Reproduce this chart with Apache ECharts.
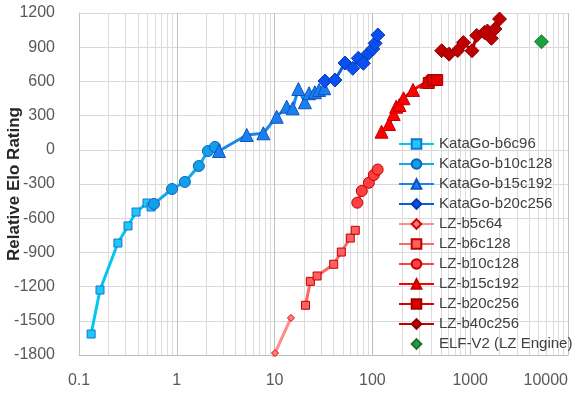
<!DOCTYPE html>
<html>
<head>
<meta charset="utf-8">
<script src="https://cdn.jsdelivr.net/npm/echarts@6/dist/echarts.min.js"></script>
<style>
  html, body { margin: 0; padding: 0; background: #fff; }
  #chart { width: 575px; height: 394px; }
</style>
</head>
<body>
<div id="chart"></div>
<script>
// [visits, relative elo]
const katagoB6c96 = [[0.133, -1616], [0.164, -1230], [0.25, -818], [0.317, -668], [0.383, -546], [0.496, -467], [0.545, -502]];
const katagoB10c128 = [[0.584, -475], [0.893, -344], [1.21, -282], [1.68, -142], [2.08, -11], [2.46, 25]];
const katagoB15c192 = [[2.7, -10], [5.19, 130], [7.67, 145], [10.5, 290], [13.3, 378], [15.3, 364], [17.5, 533], [20.4, 417], [22.5, 496], [25.8, 505], [28.5, 525], [32.2, 540]];
const katagoB20c256 = [[32.7, 603], [41.4, 612], [52.5, 761], [63.0, 715], [71.8, 803], [80.9, 759], [91.1, 846], [100.9, 884], [106.6, 934], [113.7, 1007]];
const lzB5c64 = [[7.6, -2020], [10.1, -1783], [14.7, -1475]];
const lzB6c128 = [[20.7, -1364], [23.2, -1154], [27.2, -1107], [40.2, -1004], [48.1, -897], [59.4, -774], [66.8, -706]];
const lzB10c128 = [[70.1, -464], [77.9, -361], [92.0, -289], [103.4, -221], [113.2, -173]];
const lzB15c192 = [[124, 159], [148, 226], [165, 314], [175, 378], [189, 393], [208, 452], [260, 525], [358, 597]];
const lzB20c256 = [[377, 586], [417, 612], [460, 612]];
const lzB40c256 = [[511, 869], [608, 839], [746, 871], [851, 941], [1044, 869], [1167, 1003], [1397, 1029], [1500, 1042], [1647, 978], [1790, 1060], [1995, 1147]];
const elfV2 = [[5360, 948]];

const yTicks = { min: -1800, max: 1200, step: 300 };
const xRange = { min: 0.1, max: 10000 };
const minorX = [];
for (let d = 0.1; d < 10000; d *= 10) {
  for (let k = 2; k <= 9; k++) minorX.push(+(d * k).toPrecision(6));
}

const font = '"Liberation Sans", Arial, sans-serif';

function lineSeries(name, data, lineColor, symbol, size, fill, border) {
  return {
    name: name,
    type: 'line',
    data: data,
    symbol: symbol,
    symbolSize: size,
    showAllSymbol: true,
    lineStyle: { color: lineColor, width: 3 },
    itemStyle: { color: fill, borderColor: border, borderWidth: 1 },
    emphasis: { disabled: true },
    animation: false
  };
}

const elfSeries = lineSeries('ELF-V2 (LZ Engine)', elfV2, '#1ea040', 'diamond', 14, '#1ea040', '#207030');
elfSeries.lineStyle = { width: 0, opacity: 0 };

const chart = echarts.init(document.getElementById('chart'));
chart.setOption({
  animation: false,
  grid: { left: 79, right: 7, top: 13, bottom: 39, containLabel: false, outerBoundsMode: 'none' },
  xAxis: {
    type: 'log',
    logBase: 10,
    min: xRange.min,
    max: xRange.max,
    axisLine: { onZero: false, lineStyle: { color: '#bfbfbf' } },
    axisTick: { show: false },
    axisLabel: {
      color: '#595959', fontSize: 16, fontFamily: font, margin: 18,
      alignMaxLabel: 'right',
      formatter: v => String(+Number(v).toPrecision(6))
    },
    splitLine: { show: true, lineStyle: { color: '#c0c0c0', width: 1 } }
  },
  yAxis: {
    type: 'value',
    min: yTicks.min,
    max: yTicks.max,
    interval: yTicks.step,
    name: 'Relative Elo Rating',
    nameLocation: 'middle',
    nameGap: 56,
    nameMoveOverlap: false,
    nameTextStyle: { color: '#262626', fontSize: 17, fontWeight: 'bold', fontFamily: font },
    axisLine: { show: true, onZero: false, lineStyle: { color: '#bfbfbf' } },
    axisTick: { show: false },
    axisLabel: { color: '#595959', fontSize: 16, fontFamily: font, margin: 24, formatter: v => String(v) },
    splitLine: { show: true, lineStyle: { color: '#d9d9d9', width: 1 } }
  },
  legend: {
    orient: 'vertical',
    left: 398,
    top: 136,
    padding: 0,
    itemWidth: 35,
    itemHeight: 12,
    itemGap: 4,
    textStyle: { color: '#404040', fontSize: 15, fontFamily: font, lineHeight: 16 },
    data: ['KataGo-b6c96', 'KataGo-b10c128', 'KataGo-b15c192', 'KataGo-b20c256',
      'LZ-b5c64', 'LZ-b6c128', 'LZ-b10c128', 'LZ-b15c192', 'LZ-b20c256', 'LZ-b40c256', 'ELF-V2 (LZ Engine)']
  },
  series: [
    {
      type: 'line',
      data: [],
      silent: true,
      markLine: {
        silent: true,
        z: 0,
        symbol: ['none', 'none'],
        label: { show: false },
        lineStyle: { color: '#dcdcdc', width: 1, type: 'solid' },
        data: minorX.map(v => ({ xAxis: v }))
      }
    },
    lineSeries('KataGo-b6c96', katagoB6c96, '#00c8f0', 'rect', 8, '#1ec8f4', '#1a6fd8'),
    lineSeries('KataGo-b10c128', katagoB10c128, '#10a8f0', 'circle', 11, '#10a0e8', '#1060c0'),
    lineSeries('KataGo-b15c192', katagoB15c192, '#1a88e8', 'triangle', 13, '#1a80f0', '#1050c0'),
    lineSeries('KataGo-b20c256', katagoB20c256, '#0060e0', 'diamond', 14, '#0a50f0', '#0838b0'),
    lineSeries('LZ-b5c64', lzB5c64, '#ff8c8c', 'diamond', 7, '#ff8080', '#e00000'),
    lineSeries('LZ-b6c128', lzB6c128, '#ff6666', 'rect', 8, '#ff6060', '#c00000'),
    lineSeries('LZ-b10c128', lzB10c128, '#ff4444', 'circle', 11, '#ff4040', '#c00000'),
    lineSeries('LZ-b15c192', lzB15c192, '#ff0000', 'triangle', 13, '#ff0000', '#c00000'),
    lineSeries('LZ-b20c256', lzB20c256, '#e00000', 'rect', 11, '#e00000', '#a00000'),
    lineSeries('LZ-b40c256', lzB40c256, '#c00000', 'diamond', 14, '#c00000', '#900000'),
    elfSeries
  ]
});
</script>
</body>
</html>
